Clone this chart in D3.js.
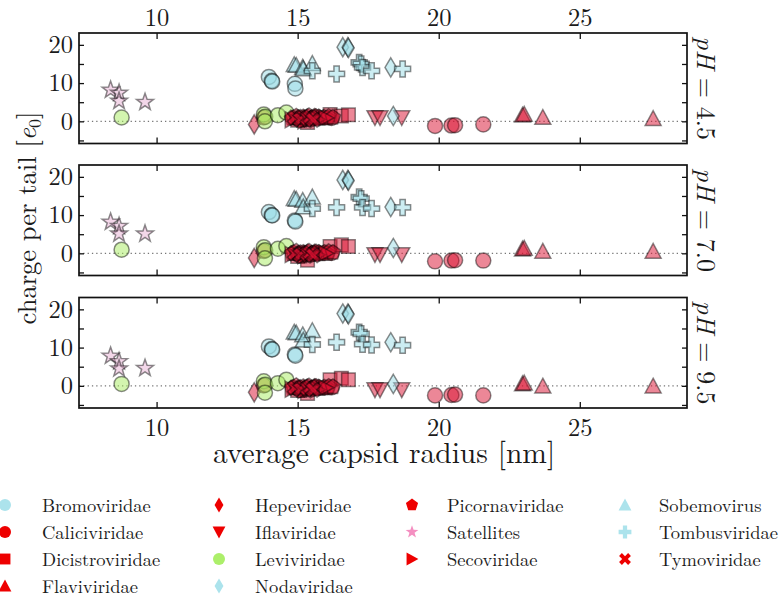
<!DOCTYPE html>
<html><head><meta charset="utf-8">
<script src="https://cdn.jsdelivr.net/npm/d3@7"></script>
<style>
body{margin:0;background:#fff}
svg{display:block}
</style>
</head><body>
<svg id="chart" width="782" height="597"></svg>
<script>
// ---------------- data ----------------
const families = ["Bromoviridae","Caliciviridae","Dicistroviridae","Flaviviridae",
  "Hepeviridae","Iflaviridae","Leviviridae","Nodaviridae",
  "Picornaviridae","Satellites","Secoviridae",
  "Sobemovirus","Tombusviridae","Tymoviridae"];
const familyMarkers = ["o","o","s","^","d","v","o","d","p","*",">","^","P","X"];
const familyGroup = ["blue","red","red","red","red","red","green","blue","red","pink","red","blue","blue","red"];
const legendColor = {blue:"#ace3ec", red:"#ee0000", green:"#acef6a", pink:"#f48fc1"};
const plotColor = {blue:"#9adbe6", red:"#d91030", green:"#a8ec60", pink:"#e8b0d4"};
const phLabels = ["4.5","7.0","9.5"];
const xTicks = [10,15,20,25];
const yTicks = [-5,0,5,10,15,20];
const yLabelled = [0,10,20];

// each point: [average capsid radius (nm), charge per tail at pH 4.5, 7.0, 9.5]
const bromoviridae = [[13.98,11.6,10.8,10.3],[14.08,10.6,10.0,9.6],[14.1,10.4,9.9,9.5],[14.9,9.8,8.6,8.2],[14.92,8.6,8.3,7.9]];
const caliciviridae = [[13.8,1.0,0.6,0.1],[15.6,0.8,0.0,-0.6],[16.2,0.9,0.1,-0.4],[19.87,-1.2,-2.1,-2.5],[20.45,-1.1,-1.9,-2.4],[20.58,-1.0,-1.8,-2.3],[21.58,-0.8,-1.9,-2.5]];
const dicistroviridae = [[15.0,0.3,-0.8,-1.2],[15.35,-0.3,-1.8,-2.0],[16.15,1.8,1.8,1.6],[16.55,1.4,2.2,2.0],[16.8,1.7,1.8,1.6]];
const flaviviridae = [[22.97,1.6,1.1,0.5],[23.03,1.8,1.3,0.7],[23.69,1.0,0.5,-0.1],[27.6,0.7,0.5,-0.1]];
const hepeviridae = [[13.46,-0.8,-1.2,-1.7]];
const iflaviridae = [[17.74,1.0,-0.3,-1.0],[17.92,1.0,-0.3,-1.0],[18.69,1.0,-0.3,-1.0]];
const leviviridae = [[8.76,1.0,0.95,0.5],[13.8,1.8,1.6,1.2],[13.85,1.2,0.8,0.3],[13.84,0.0,-1.3,-1.8],[14.3,1.6,1.2,0.7],[14.6,2.3,1.9,1.6]];
const nodaviridae = [[16.6,19.4,19.2,18.9],[16.78,19.4,19.2,18.9],[16.8,19.2,19.0,18.7],[18.3,14.1,12.1,11.4],[18.39,1.4,1.4,0.5]];
const picornaviridae = [[14.8,0.7,-0.1,-0.6],[14.85,0.9,0.2,-0.4],[14.95,1.3,0.5,0.0],[15.0,0.9,-0.1,-0.6],[15.05,0.6,-0.3,-0.8],
  [15.1,1.0,0.1,-0.5],[15.15,0.2,-0.8,-1.3],[15.2,1.1,0.2,-0.3],[15.25,0.8,-0.1,-0.7],[15.3,0.4,-0.5,-1.0],
  [15.35,1.2,0.3,-0.3],[15.4,1.4,0.5,-0.1],[15.45,0.6,-0.4,-0.9],[15.5,0.9,-0.1,-0.6],[15.6,1.3,0.3,-0.2],
  [15.65,1.2,0.3,-0.2],[15.75,1.1,0.2,-0.4],[15.8,0.7,-0.2,-0.8],[15.9,0.9,0.0,-0.6],[15.95,1.0,0.2,-0.4],
  [16.05,0.8,-0.1,-0.6],[16.1,1.2,0.4,-0.2],[16.25,1.0,0.2,-0.3]];
const satellites = [[8.37,8.2,8.2,7.8],[8.67,7.4,7.1,6.4],[8.67,5.3,5.1,4.5],[9.59,5.0,5.1,4.6]];
const secoviridae = [[14.8,0.4,-0.3,-0.9],[15.25,0.1,-0.6,-1.2],[15.7,0.5,-0.4,-1.0],[16.0,0.9,0.0,-0.5]];
const sobemovirus = [[14.88,14.8,14.3,14.0],[14.95,14.6,14.1,13.8],[15.18,14.1,13.8,13.3],[15.2,13.7,12.1,11.9],[15.52,15.1,14.7,14.4]];
const tombusviridae = [[15.52,13.2,11.7,10.8],[16.38,12.4,12.0,11.4],[17.18,15.4,14.7,14.0],[17.25,15.0,14.3,13.6],[17.3,14.1,12.0,10.9],[17.62,13.2,11.7,10.7],[18.72,13.7,12.0,10.6]];
const tymoviridae = [[14.9,1.0,0.0,-0.5],[15.1,0.5,-0.4,-0.9],[15.35,0.9,0.0,-0.6],[15.45,1.1,0.1,-0.3],[15.55,0.4,-0.5,-1.0]];

const familyPoints = [bromoviridae,caliciviridae,dicistroviridae,flaviviridae,hepeviridae,iflaviridae,
  leviviridae,nodaviridae,picornaviridae,satellites,secoviridae,sobemovirus,tombusviridae,tymoviridae];

// ---------------- markers ----------------
const poly = pts => "M" + pts.map(p => p[0].toFixed(2) + "," + p[1].toFixed(2)).join("L") + "Z";
function markerPath(m, s) {
  switch (m) {
    case "o": { const r = s * 0.94; return `M${r},0A${r},${r} 0 1,1 ${-r},0A${r},${r} 0 1,1 ${r},0Z`; }
    case "s": { const a = s * 0.85; return poly([[-a,-a],[a,-a],[a,a],[-a,a]]); }
    case "^": return poly([[0,-s],[s,s*0.85],[-s,s*0.85]]);
    case "v": return poly([[0,s],[s,-s*0.85],[-s,-s*0.85]]);
    case ">": return poly([[s,0],[-s*0.85,-s],[-s*0.85,s]]);
    case "d": { const h = s * 1.2; return poly([[0,-h],[h*0.6,0],[0,h],[-h*0.6,0]]); }
    case "p": { const pts = []; for (let k = 0; k < 5; k++) { const a = -Math.PI/2 + k*2*Math.PI/5; pts.push([s*Math.cos(a), s*Math.sin(a)]); } return poly(pts); }
    case "*": { const pts = []; for (let k = 0; k < 10; k++) { const a = -Math.PI/2 + k*Math.PI/5; const r = k % 2 ? s*0.42 : s*1.05; pts.push([r*Math.cos(a), r*Math.sin(a)]); } return poly(pts); }
    case "P": { const w = s/3; return poly([[-w,-s],[w,-s],[w,-w],[s,-w],[s,w],[w,w],[w,s],[-w,s],[-w,w],[-s,w],[-s,-w],[-w,-w]]); }
    case "X": { const w = s/3.2, c = Math.SQRT1_2;
      const base = [[-w,-s],[w,-s],[w,-w],[s,-w],[s,w],[w,w],[w,s],[-w,s],[-w,w],[-s,w],[-s,-w],[-w,-w]];
      return poly(base.map(([x,y]) => [c*(x - y), c*(x + y)])); }
  }
}

// ---------------- layout ----------------
const FONT = "Latin Modern Roman";
const INK = "#1a1a1a";
const svg = d3.select("#chart");
const left = 79, right = 687;
const panelTops = [33, 165, 297.5];
const panelH = 110.5;

const x = d3.scaleLinear().domain([7.25, 28.8]).range([left, right]);

panelTops.forEach((top, pi) => {
  const y = d3.scaleLinear().domain([-5.8, 23.1]).range([top + panelH, top]);
  const g = svg.append("g");

  g.append("line").attr("x1", left).attr("x2", right)
    .attr("y1", y(0)).attr("y2", y(0))
    .attr("stroke", "#777").attr("stroke-width", 1.3).attr("stroke-dasharray", "1.3,3");

  const pg = g.append("g");
  familyPoints.forEach((pts, fi) => {
    pg.selectAll(null).data(pts).enter().append("path")
      .attr("d", markerPath(familyMarkers[fi], familyMarkers[fi] === "*" ? 8.5 : 8))
      .attr("transform", d => `translate(${x(d[0])},${y(d[pi + 1])})`)
      .attr("fill", plotColor[familyGroup[fi]]).attr("fill-opacity", 0.5)
      .attr("stroke", "#000").attr("stroke-opacity", 0.45).attr("stroke-width", 1.5);
  });

  const yl = d3.axisLeft(y).tickValues(yTicks).tickSize(-5).tickPadding(6)
    .tickFormat(d => yLabelled.includes(d) ? d : "");
  const yr = d3.axisRight(y).tickValues(yTicks).tickSize(-5).tickFormat("");
  const xt = d3.axisTop(x).tickValues(xTicks).tickSize(-6).tickPadding(7)
    .tickFormat(pi === 0 ? d3.format("d") : "");
  const xb = d3.axisBottom(x).tickValues(xTicks).tickSize(-6).tickPadding(11)
    .tickFormat(pi === 2 ? d3.format("d") : "");

  const styleAxis = a => {
    a.attr("font-family", FONT).attr("font-size", 24.5);
    a.select(".domain").remove();
    a.selectAll(".tick line").attr("stroke", "#111").attr("stroke-width", 1.3);
    a.selectAll(".tick text").attr("font-family", FONT).style("font-family", FONT)
      .style("font-size", "24.5px").attr("fill", INK);
  };
  g.append("g").attr("transform", `translate(${left},0)`).call(yl).call(styleAxis);
  g.append("g").attr("transform", `translate(${right},0)`).call(yr).call(styleAxis);
  g.append("g").attr("transform", `translate(0,${top})`).call(xt).call(styleAxis);
  g.append("g").attr("transform", `translate(0,${top + panelH})`).call(xb).call(styleAxis);

  g.append("rect").attr("x", left).attr("y", top).attr("width", right - left).attr("height", panelH)
    .attr("fill", "none").attr("stroke", "#111").attr("stroke-width", 1.7);

  const t = g.append("text")
    .attr("transform", `translate(${right + 10},${top + panelH / 2}) rotate(90)`)
    .attr("text-anchor", "middle").style("font-family", FONT).style("font-size", "26px").attr("fill", INK);
  t.append("tspan").style("font-style", "italic").text("pH");
  t.append("tspan").text(" = " + phLabels[pi]);
});

svg.append("text").attr("x", 384).attr("y", 463)
  .attr("text-anchor", "middle").style("font-family", FONT).style("font-size", "29.5px").attr("fill", INK)
  .text("average capsid radius [nm]");

const yt = svg.append("text")
  .attr("transform", `translate(36,218) rotate(-90)`)
  .attr("text-anchor", "middle").style("font-family", FONT).style("font-size", "26.5px").attr("fill", INK);
yt.append("tspan").text("charge per tail [");
yt.append("tspan").style("font-style", "italic").text("e");
yt.append("tspan").attr("dy", 5).style("font-size", "18px").text("0");
yt.append("tspan").attr("dy", -5).text("]");

const colX = [5, 219, 412, 625];
const textX = [42, 255, 447, 659];
const rowY = [505, 532, 559, 586];
const colStart = [0, 4, 8, 11];
const lg = svg.append("g");
families.forEach((name, i) => {
  let c = 0; for (let k = 0; k < 4; k++) if (i >= colStart[k]) c = k;
  const r = i - colStart[c];
  lg.append("path").attr("d", markerPath(familyMarkers[i], familyMarkers[i] === "d" ? 6.2 : 6.4))
    .attr("transform", `translate(${colX[c]},${rowY[r]})`)
    .attr("fill", legendColor[familyGroup[i]]);
  lg.append("text").attr("x", textX[c]).attr("y", rowY[r] + 6.5)
    .style("font-family", FONT).style("font-size", "18.5px").attr("fill", INK).text(name);
});
</script>
</body></html>
